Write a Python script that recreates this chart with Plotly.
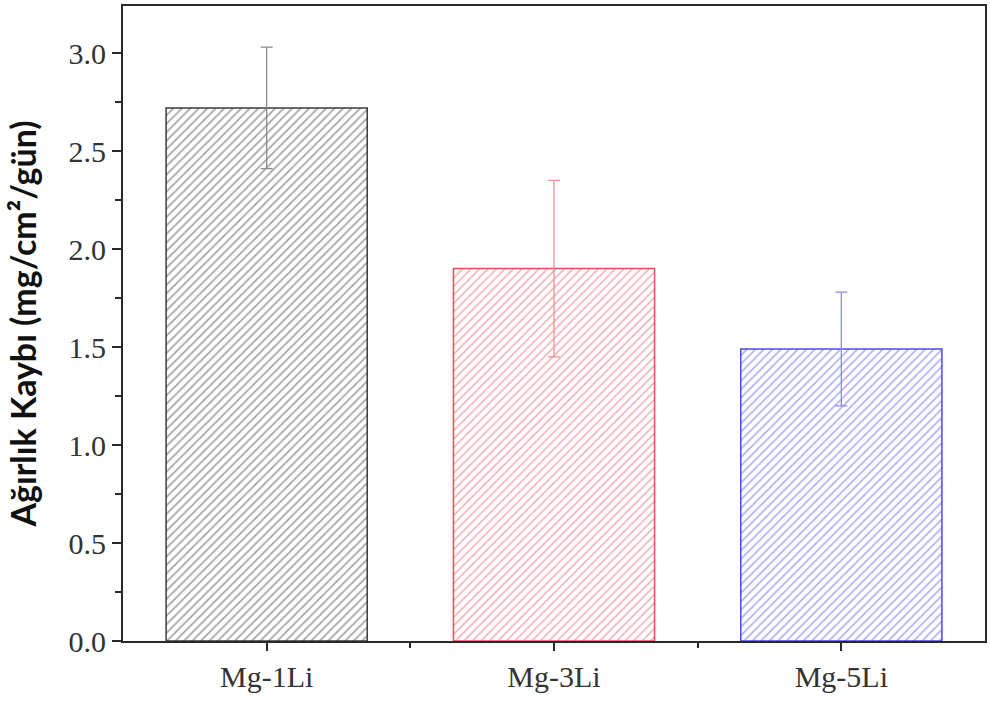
import plotly.graph_objects as go

categories = ["Mg-1Li", "Mg-3Li", "Mg-5Li"]
values = [2.72, 1.90, 1.49]
errors = [0.31, 0.45, 0.29]
edge_colors = ["#3c3c3c", "#e4505a", "#4b4be0"]
hatch_colors = ["#4a4a4a", "#e86a72", "#6464e6"]
err_colors = ["#8c8c8c", "#f09098", "#8a8aec"]
y_ticks = [0.0, 0.5, 1.0, 1.5, 2.0, 2.5, 3.0]

fig = go.Figure()
for i, cat in enumerate(categories):
    fig.add_trace(go.Bar(
        x=[i], y=[values[i]], width=0.7, name=cat,
        marker=dict(color="white",
                    line=dict(color=edge_colors[i], width=1.5),
                    pattern=dict(shape="/", fgcolor=hatch_colors[i], bgcolor="white",
                                 size=6, solidity=0.3, fillmode="overlay")),
        error_y=dict(type="data", array=[errors[i]], visible=True,
                     color=err_colors[i], thickness=1.3, width=6),
        showlegend=False,
    ))

fig.update_layout(
    width=990, height=705,
    margin=dict(l=123, r=3, t=6, b=64),
    paper_bgcolor="white", plot_bgcolor="white",
    bargap=0.3,
)
fig.update_xaxes(
    range=[-0.5, 2.5], tickvals=list(range(len(categories))), ticktext=categories,
    showline=True, linecolor="#2a2a2a", linewidth=2, mirror=True,
    ticks="outside", ticklen=8, tickwidth=1.5, tickcolor="#2a2a2a",
    minor=dict(tickvals=[0.5, 1.5], ticks="outside", ticklen=5, tickwidth=1.5, tickcolor="#2a2a2a"),
    tickfont=dict(family="Liberation Serif", size=30, color="#333"),
    showgrid=False, zeroline=False,
)
fig.update_yaxes(
    range=[0, 3.24], tickvals=y_ticks, ticktext=[f"{v:.1f}" for v in y_ticks],
    showline=True, linecolor="#2a2a2a", linewidth=2, mirror=True,
    ticks="outside", ticklen=9, tickwidth=1.5, tickcolor="#2a2a2a",
    minor=dict(dtick=0.25, tick0=0, ticks="outside", ticklen=6, tickwidth=1.5, tickcolor="#2a2a2a"),
    tickfont=dict(family="Liberation Serif", size=30, color="#333"),
    title=dict(text="Ağırlık Kaybı (mg/cm²/gün)",
               font=dict(family="Lato", size=34, color="#111", weight="bold"), standoff=22),
    showgrid=False, zeroline=False,
)

fig.write_html("out.html")
